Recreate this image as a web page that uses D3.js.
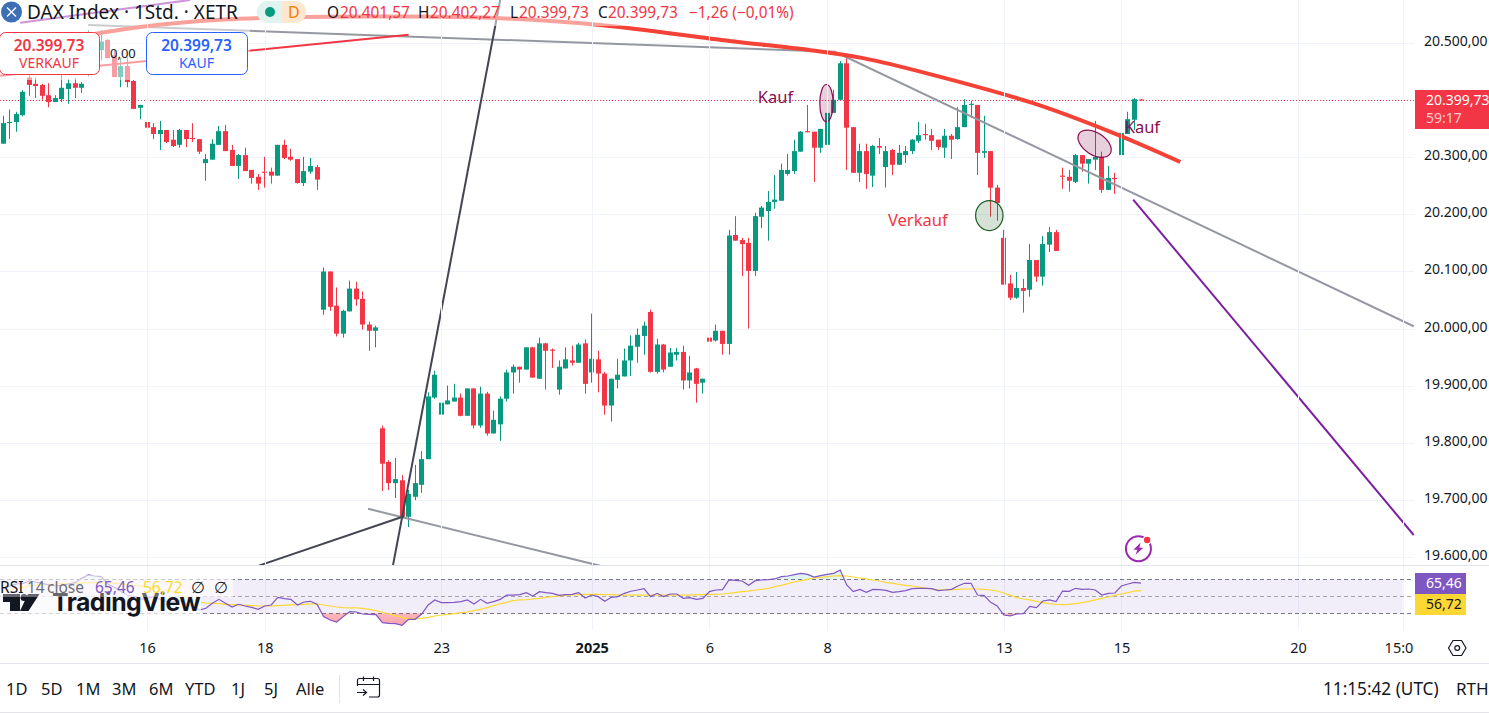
<!DOCTYPE html>
<html>
<head>
<meta charset="utf-8">
<script src="https://cdn.jsdelivr.net/npm/d3@7"></script>
<style>
  html, body { margin: 0; padding: 0; background: #fff; overflow: hidden; }
  svg { display: block; }
  text { font-family: "Noto Sans", sans-serif; fill: #131722; }
</style>
</head>
<body>
<div class="chart"></div>
<script>
// first bar in the arrays sits 22 bars left of the "16" tick
const firstBar = -22;

const opens = [
  20324,20360,20362,20374,20440,20429,20427,20409,20397,20402,20420,20430,20422,20459,20494,20488,20506,20479,20441,20460,20434,20387,
  20362,20353,20341,20348,20331,20322,20348,20334,20332,20290,20296,20322,20346,20313,20285,20304,20278,20266,20275,20275,20268,20322,20301,20297,20255,20275,20283,
  20033,20100,20040,19991,20030,20070,20052,20007,19996,
  19825,19766,19729,19734,19670,19705,19726,19771,19879,19849,19867,19872,19879,19847,19895,19830,19886,19816,19832,19877,19923,19933,19928,19967,19912,19974,19963,19893,19930,19944,19940,19974,19923,19946,19921,19865,19910,19916,19944,19968,
  19987,20029,19924,19972,19933,19954,19959,19909,19930,19905,19984,19979,19996,19973,20164,20155,20150,20101,20196,20206,20222,20224,20271,20276,20310,20346,20345,20317,20322,20378,20401,20465,20353,20273,20311,20268,20320,20283,20313,20287,20304,20311,
  20329,20341,20339,20331,20317,20338,20332,20353,20392,20392,20308,20311,20247,20159,20079,20054,20071,20068,20120,20091,20147,20169,
  20268,20266,20257,20304,20289,20296,20301,20243,20264,20304,20341,20366,20401.57
];
const highs = [
  20373,20384,20380,20418,20444,20440,20429,20430,20409,20446,20437,20439,20432,20523,20517,20523,20507,20488,20475,20475,20436,20392,
  20389,20360,20364,20348,20348,20350,20348,20360,20332,20306,20332,20355,20357,20322,20306,20317,20278,20271,20301,20282,20322,20331,20315,20297,20301,20299,20287,
  20107,20100,20072,20033,20084,20082,20065,20012,20005,
  19830,19769,19773,19743,19717,19761,19785,19888,19926,19874,19900,19903,19886,19895,19895,19898,19889,19856,19881,19928,19937,19933,19967,19968,19984,19975,19965,19944,19967,19970,19975,19981,20026,19961,19924,19912,19947,19965,19988,20000,
  20012,20033,19982,19973,19966,19966,19970,19952,19931,19912,20000,20007,19996,20173,20197,20159,20159,20203,20215,20241,20269,20289,20306,20331,20346,20392,20345,20350,20409,20418,20469,20477,20353,20324,20324,20322,20334,20320,20315,20322,20320,20332,
  20362,20359,20350,20331,20350,20341,20388,20402,20399,20392,20373,20311,20252,20173,20094,20099,20087,20148,20120,20162,20178,20173,
  20282,20278,20306,20304,20297,20364,20310,20285,20273,20357,20380,20404,20402.27
];
const lows = [
  20324,20332,20345,20372,20408,20404,20401,20388,20397,20397,20394,20404,20413,20442,20459,20470,20474,20441,20423,20423,20385,20367,
  20339,20332,20313,20325,20318,20317,20318,20327,20306,20259,20296,20322,20311,20285,20262,20276,20254,20243,20247,20254,20268,20297,20294,20254,20250,20271,20243,
  20024,20031,19986,19984,20030,20040,19998,19961,19967,
  19715,19717,19703,19670,19652,19699,19712,19771,19877,19809,19867,19872,19846,19847,19825,19826,19812,19816,19803,19872,19886,19905,19928,19914,19912,19893,19931,19884,19930,19935,19940,19886,19905,19888,19849,19837,19895,19916,19917,19940,
  19954,19923,19921,19923,19933,19944,19893,19895,19870,19886,19923,19977,19954,19954,20154,20092,20000,20092,20176,20154,20210,20224,20268,20271,20310,20344,20257,20308,20318,20378,20401,20278,20273,20257,20245,20248,20306,20247,20269,20287,20290,20306,
  20325,20331,20313,20313,20299,20297,20331,20353,20369,20269,20299,20196,20189,20077,20050,20052,20028,20056,20082,20075,20134,20136,
  20245,20240,20255,20275,20254,20278,20238,20243,20236,20292,20341,20348,20399.73
];
const closes = [
  20360,20362,20376,20415,20427,20425,20408,20397,20404,20422,20430,20422,20429,20488,20471,20503,20474,20441,20460,20432,20385,20392,
  20352,20341,20348,20327,20320,20348,20332,20332,20310,20297,20324,20346,20311,20285,20304,20276,20264,20254,20273,20268,20322,20299,20296,20255,20276,20285,20261,
  20100,20038,19991,20031,20070,20051,20007,19996,20002,
  19763,19729,19736,19670,19710,19729,19771,19881,19919,19870,19874,19879,19847,19895,19830,19886,19816,19840,19877,19923,19933,19928,19967,19914,19974,19961,19961,19933,19946,19940,19972,19903,19947,19921,19865,19912,19919,19944,19970,19989,
  20005,19924,19972,19928,19958,19959,19909,19923,19903,19912,19977,19996,19973,20163,20154,20148,20101,20197,20212,20222,20226,20278,20278,20311,20345,20344,20317,20350,20378,20401,20465,20352,20273,20311,20271,20320,20317,20311,20287,20308,20311,20331,
  20339,20339,20329,20318,20338,20331,20353,20392,20394,20308,20311,20247,20220,20077,20054,20071,20066,20120,20091,20148,20169,20136,
  20266,20259,20304,20289,20297,20301,20243,20264,20262,20343,20367,20402,20399.73
];

const rsi = [
  59.4,62.1,64.5,65.3,68.0,66.8,65.3,63.3,62.1,62.9,64.5,66.0,71.1,75.1,73.9,73.1,64.5,60.6,55.5,51.5,49.6,46.4,
  47.6,49.6,46.4,43.7,43.7,44.9,41.0,38.6,33.9,35.9,41.7,46.4,41.7,37.4,40.6,38.6,37.0,34.7,38.6,39.8,48.8,47.2,46.4,39.8,43.3,44.1,40.6,
  26.1,22.1,19.8,26.1,31.9,31.5,29.2,28.8,28.4,19.0,18.2,17.8,15.9,22.9,22.9,29.2,39.8,45.7,42.5,42.5,42.9,43.7,45.7,41.0,46.4,41.7,43.7,46.4,
  51.5,51.5,51.9,54.3,50.4,55.5,54.3,53.5,51.1,51.9,52.3,54.3,48.0,51.5,49.6,44.1,48.8,49.6,53.5,55.9,57.4,59.0,49.6,53.5,49.6,52.7,52.7,47.6,48.4,46.4,47.6,55.5,57.4,57.8,
  69.2,68.8,68.0,62.9,68.4,69.2,69.6,70.4,73.1,73.9,75.5,77.0,75.8,72.7,74.3,75.8,77.0,80.9,63.3,55.5,58.2,54.7,58.2,57.8,57.0,54.7,55.5,56.6,59.0,59.4,59.4,59.0,56.6,57.4,58.2,62.1,65.3,65.3,51.5,50.8,42.9,38.6,
  28.0,26.9,29.2,29.6,38.2,36.6,44.5,45.7,43.7,56.2,55.9,59.4,58.2,58.6,57.4,51.5,53.5,53.9,62.1,64.5,66.4,65.46
];
const rsiMa = [
  55.5,57.4,59.4,60.6,62.1,62.9,63.7,64.1,64.5,64.9,65.3,65.3,65.6,66.0,66.0,66.0,65.6,65.3,64.5,63.7,62.9,62.1,
  60.9,59.8,58.6,57.0,55.1,52.3,48.8,45.7,43.3,42.1,41.7,41.3,40.6,39.8,39.8,39.4,39.0,38.6,38.6,38.6,39.0,39.4,39.8,40.2,40.6,41.0,41.0,
  39.8,38.6,37.4,36.6,36.3,36.3,35.9,34.7,33.1,31.2,29.2,27.2,25.3,23.7,23.3,24.1,25.3,26.8,28.0,28.8,29.6,30.8,31.5,33.1,34.7,36.6,39.0,41.0,
  42.9,44.9,45.7,46.0,46.8,47.6,48.8,49.6,50.4,51.1,51.5,51.9,52.3,52.3,52.3,51.9,51.9,51.5,51.5,51.5,51.5,51.5,51.5,51.5,51.5,51.5,51.5,51.5,51.5,51.9,51.9,52.3,52.3,52.7,
  53.5,54.7,55.5,56.2,57.4,58.2,59.4,61.3,62.9,64.9,66.8,68.4,70.0,71.5,72.3,73.1,73.9,74.3,73.9,72.7,71.5,70.4,69.2,68.0,66.4,65.3,64.1,62.9,62.1,60.9,59.8,58.6,57.4,57.4,57.8,58.2,58.6,58.6,58.6,58.2,57.4,56.2,
  53.9,51.1,48.4,46.8,45.7,44.1,42.5,41.3,40.6,40.2,40.6,41.3,42.5,44.1,45.7,47.6,49.2,51.1,52.7,54.3,56.2,56.72
];

const priceTicks = [20500, 20400, 20300, 20200, 20100, 20000, 19900, 19800, 19700, 19600];
const timeTicks = [0, 18, 45, 68, 86, 104, 131, 149, 176, 192];
const timeLabels = ['16', '18', '23', '2025', '6', '8', '13', '15', '20', '15:00'];
const rsiLevels = [70, 50, 30];
const rangeButtons = ['1D', '5D', '1M', '3M', '6M', 'YTD', '1J', '5J', 'Alle'];
const lastPrice = 20399.73;

// drawings, as [bar, price]
const grayFan = [[-9, 20532], [105.2, 20485], [193.7, 20004]];
const redCurve = [[-11.8, 20506], [-7.2, 20518], [8.1, 20539], [23.4, 20546], [38.7, 20547], [54, 20544], [69.3, 20532], [89.1, 20504], [101.4, 20488], [109.5, 20474], [119.7, 20446], [135.5, 20395], [147.7, 20343], [158, 20292]];
const redLine = [[-22.5, 20443], [40, 20515]];
const purpleLine = [[150.8, 20226], [193.7, 19638]];
const lilacLine = [[-19.4, 20536], [6.6, 20576]];
const darkSteep = [[37.6, 19584], [54, 20576]];
const darkLow = [[17, 19584], [39.3, 19671]];
const grayLow = [[33.8, 19684], [69.3, 19584]];

const width = 1489;
const height = 714;
const paneRight = 1414;
const mainBottom = 566;
const rsiBottom = 630;
const up = '#089981';
const down = '#f23645';
const grid = '#f0f3fa';
const sep = '#e0e3eb';

const x = d3.scaleLinear().domain([0, 176]).range([147, 1298]);
const y = d3.scaleLinear().domain([20500, 19600]).range([43.3, 556.7]);
const yRsi = d3.scaleLinear().domain([70, 30]).range([579.3, 613.3]);

const locale = d3.formatLocale({ decimal: ',', thousands: '.', grouping: [3], currency: ['', ''] });
const fmt = locale.format(',.2f');

const svg = d3.select('.chart').append('svg').attr('width', width).attr('height', height);

const defs = svg.append('defs');
defs.append('clipPath').attr('id', 'main-clip').append('rect')
  .attr('x', 0).attr('y', 0).attr('width', paneRight).attr('height', mainBottom);
defs.append('clipPath').attr('id', 'rsi-clip').append('rect')
  .attr('x', 0).attr('y', mainBottom + 1).attr('width', paneRight).attr('height', rsiBottom - mainBottom - 1);
defs.append('clipPath').attr('id', 'time-clip').append('rect')
  .attr('x', 0).attr('y', rsiBottom).attr('width', paneRight).attr('height', 34);
defs.append('clipPath').attr('id', 'below-30').append('rect')
  .attr('x', 0).attr('y', yRsi(30)).attr('width', paneRight).attr('height', 20);
defs.append('clipPath').attr('id', 'above-70').append('rect')
  .attr('x', 0).attr('y', yRsi(70) - 20).attr('width', paneRight).attr('height', 20);

// grid
const main = svg.append('g').attr('clip-path', 'url(#main-clip)');
main.selectAll('.hgrid').data(priceTicks).enter().append('line')
  .attr('x1', 0).attr('x2', paneRight)
  .attr('y1', (d) => Math.round(y(d)) + 0.5).attr('y2', (d) => Math.round(y(d)) + 0.5)
  .attr('stroke', grid);
svg.selectAll('.vgrid').data(timeTicks).enter().append('line')
  .attr('x1', (d) => Math.round(x(d)) + 0.5).attr('x2', (d) => Math.round(x(d)) + 0.5)
  .attr('y1', 0).attr('y2', rsiBottom)
  .attr('stroke', grid);

// last price
main.append('line')
  .attr('x1', 0).attr('x2', paneRight)
  .attr('y1', Math.round(y(lastPrice)) + 0.5).attr('y2', Math.round(y(lastPrice)) + 0.5)
  .attr('stroke', down).attr('stroke-dasharray', '1 2');

// candles
const bars = opens.map((o, i) => {
  return { bar: firstBar + i, o: o, h: highs[i], l: lows[i], c: closes[i] };
});
const candle = main.selectAll('.candle').data(bars).enter().append('g');
candle.append('line')
  .attr('x1', (d) => Math.floor(x(d.bar)) + 0.5)
  .attr('x2', (d) => Math.floor(x(d.bar)) + 0.5)
  .attr('y1', (d) => y(d.h))
  .attr('y2', (d) => y(d.l))
  .attr('stroke', (d) => (d.c >= d.o ? up : down));
candle.append('rect')
  .attr('x', (d) => Math.floor(x(d.bar)) - 2)
  .attr('width', 5)
  .attr('y', (d) => Math.min(y(d.o), y(d.c)))
  .attr('height', (d) => Math.max(1, Math.abs(y(d.o) - y(d.c))))
  .attr('fill', (d) => (d.c >= d.o ? up : down));

// drawings
const path = d3.line().x((d) => x(d[0])).y((d) => y(d[1]));
function drawLine(points, color, w, curve) {
  main.append('path')
    .attr('d', path.curve(curve || d3.curveLinear)(points))
    .attr('fill', 'none')
    .attr('stroke', color)
    .attr('stroke-width', w);
}
drawLine(lilacLine, '#9c27b0', 2);
drawLine(grayFan, '#9598a1', 2);
drawLine(grayLow, '#9598a1', 2);
drawLine(darkLow, '#434651', 2);
drawLine(darkSteep, '#434651', 2);
drawLine(redLine, '#f23645', 2);
drawLine(redCurve, '#f44336', 4, d3.curveCatmullRom);
drawLine(purpleLine, '#7b1fa2', 2);

function drawEllipse(bar, price, rx, ry, angle, fill, stroke) {
  main.append('ellipse')
    .attr('transform', 'translate(' + x(bar) + ',' + y(price) + ') rotate(' + angle + ')')
    .attr('rx', rx).attr('ry', ry)
    .attr('fill', fill)
    .attr('stroke', stroke)
    .attr('stroke-width', 1.2);
}
drawEllipse(103.9, 20395, 6.7, 18.7, 0, 'rgba(136,14,79,0.2)', '#880e4f');
drawEllipse(144.9, 20324, 18.5, 11, 33, 'rgba(136,14,79,0.2)', '#880e4f');
drawEllipse(128.8, 20198, 13.7, 15, 0, 'rgba(27,94,32,0.18)', '#1b5e20');

function drawNote(bar, price, label, color) {
  main.append('text')
    .attr('x', x(bar)).attr('y', y(price))
    .attr('font-size', 16.5)
    .style('fill', color)
    .text(label);
}
drawNote(93.4, 20395, 'Kauf', '#880e4f');
drawNote(113.3, 20180, 'Verkauf', '#f23645');
drawNote(149.5, 20342, 'Kauf', '#880e4f');

// bolt marker
const bolt = svg.append('g').attr('transform', 'translate(' + x(151.6) + ',' + y(19614) + ')');
bolt.append('circle').attr('r', 12.5).attr('fill', '#fff').attr('stroke', '#9c27b0').attr('stroke-width', 2);
bolt.append('path').attr('d', 'M2 -6 L-5 1 L-1 1 L-3 6 L5 -1 L1 -1 Z').attr('fill', '#9c27b0');
bolt.append('circle').attr('cx', 8.7).attr('cy', -8.7).attr('r', 4.5).attr('fill', '#fff');
bolt.append('circle').attr('cx', 8.7).attr('cy', -8.7).attr('r', 3.2).attr('fill', '#f23645');

// rsi pane
const rsiPoints = rsi.map((v, i) => ({ bar: firstBar + i, v: v }));
const maPoints = rsiMa.map((v, i) => ({ bar: firstBar + i, v: v }));
const rsiPane = svg.append('g').attr('clip-path', 'url(#rsi-clip)');
rsiPane.append('rect')
  .attr('x', 0).attr('width', x(192))
  .attr('y', yRsi(70)).attr('height', yRsi(30) - yRsi(70))
  .attr('fill', 'rgba(126,87,194,0.1)');
rsiPane.selectAll('.level').data(rsiLevels).enter().append('line')
  .attr('x1', 0).attr('x2', paneRight)
  .attr('y1', (d) => Math.round(yRsi(d)) + 0.5).attr('y2', (d) => Math.round(yRsi(d)) + 0.5)
  .attr('stroke', (d) => (d === 50 ? '#a8a5b0' : '#787b86'))
  .attr('stroke-dasharray', '4 3');

const lowGrad = defs.append('linearGradient').attr('id', 'low-fill').attr('x1', 0).attr('x2', 0).attr('y1', 0).attr('y2', 1);
lowGrad.append('stop').attr('offset', 0).attr('stop-color', '#f23645').attr('stop-opacity', 0.05);
lowGrad.append('stop').attr('offset', 1).attr('stop-color', '#f23645').attr('stop-opacity', 0.45);
rsiPane.append('path')
  .attr('clip-path', 'url(#below-30)')
  .attr('d', d3.area().x((d) => x(d.bar)).y0(yRsi(30)).y1((d) => yRsi(d.v))(rsiPoints))
  .attr('fill', 'url(#low-fill)');
rsiPane.append('path')
  .attr('clip-path', 'url(#above-70)')
  .attr('d', d3.area().x((d) => x(d.bar)).y0(yRsi(70)).y1((d) => yRsi(d.v))(rsiPoints))
  .attr('fill', 'rgba(8,153,129,0.12)');
const rsiLine = d3.line().x((d) => x(d.bar)).y((d) => yRsi(d.v));
rsiPane.append('path').attr('d', rsiLine(maPoints)).attr('fill', 'none').attr('stroke', '#fdd835').attr('stroke-width', 1.2);
rsiPane.append('path').attr('d', rsiLine(rsiPoints)).attr('fill', 'none').attr('stroke', '#7e57c2').attr('stroke-width', 1.2);

// faded backdrops behind the legends
svg.append('rect').attr('x', 0).attr('y', 0).attr('width', 800).attr('height', 26).attr('fill', 'rgba(255,255,255,0.5)');
svg.append('rect').attr('x', 0).attr('y', 26).attr('width', 250).attr('height', 54).attr('fill', 'rgba(255,255,255,0.5)');
svg.append('rect').attr('x', 0).attr('y', 575).attr('width', 233).attr('height', 22).attr('fill', 'rgba(255,255,255,0.6)');
svg.append('rect').attr('x', 0).attr('y', 597).attr('width', 201).attr('height', 19).attr('fill', 'rgba(255,255,255,0.7)');

// logo
const logo = svg.append('g').attr('fill', '#131722');
logo.append('path').attr('d', 'M3 594 H20 V611 H10 V602 H3 Z');
logo.append('circle').attr('cx', 24).attr('cy', 597.500).attr('r', 3.5);
logo.append('path').attr('d', 'M28 594 H39.500 L28.500 611 H20 Z');
logo.append('text').attr('x', 52).attr('y', 611)
  .attr('font-size', 24.8).attr('font-weight', 700).style('font-family', 'Inter, "Noto Sans", sans-serif').style('letter-spacing', '-0.5px')
  .text('TradingView');
svg.append('rect').attr('x', 0).attr('y', 589).attr('width', 201).attr('height', 8).attr('fill', 'rgba(255,255,255,0.35)');

// rsi legend
const rsiLegend = [
  ['RSI', 0, '#131722'], ['14', 27, '#6a6d78'], ['close', 47, '#6a6d78'],
  ['65,46', 95, '#7e57c2'], ['56,72', 143, '#fdd835'], ['∅', 191, '#131722'], ['∅', 214, '#131722']
];
svg.selectAll('.rsi-legend').data(rsiLegend).enter().append('text')
  .attr('x', (d) => d[1]).attr('y', 593)
  .attr('font-size', 15.5)
  .style('fill', (d) => d[2])
  .text((d) => d[0]);

// separators
[mainBottom, 664, 713].forEach((v) => {
  svg.append('line').attr('x1', 0).attr('x2', width).attr('y1', v - 0.5).attr('y2', v - 0.5).attr('stroke', sep);
});

// axes
const priceAxis = d3.axisRight(y).tickValues(priceTicks).tickFormat(fmt).tickSize(0).tickPadding(9);
const priceG = svg.append('g').attr('transform', 'translate(' + (paneRight + 1) + ',-2)').call(priceAxis);
priceG.select('.domain').remove();
priceG.selectAll('text').attr('font-size', 14).style('font-family', '"Noto Sans", sans-serif').style('fill', '#131722');

const timeAxis = d3.axisBottom(x).tickValues(timeTicks)
  .tickFormat((d, i) => timeLabels[i]).tickSize(0).tickPadding(0);
const timeG = svg.append('g').attr('clip-path', 'url(#time-clip)').append('g')
  .attr('transform', 'translate(0,643)').call(timeAxis);
timeG.select('.domain').remove();
timeG.selectAll('text').attr('font-size', 14.5).style('font-family', '"Noto Sans", sans-serif').style('fill', '#131722')
  .attr('font-weight', (d) => (d === 68 ? 700 : 400));

// price tags on the axis
function tag(yTop, h, w, color) {
  svg.append('rect').attr('x', paneRight + 1).attr('y', yTop).attr('width', w).attr('height', h).attr('fill', color);
}
tag(90, 39, 74, '#f23645');
svg.append('text').attr('x', 1426).attr('y', 105).attr('font-size', 14).style('fill', '#fff').text(fmt(lastPrice));
svg.append('text').attr('x', 1426).attr('y', 123).attr('font-size', 14).style('fill', '#ffc9cf').text('59:17');
tag(573, 21, 51, '#7e57c2');
tag(594, 21, 51, '#fdd835');
svg.append('text').attr('x', 1426).attr('y', 588).attr('font-size', 14).style('fill', '#fff').text('65,46');
svg.append('text').attr('x', 1426).attr('y', 609).attr('font-size', 14).style('fill', '#131722').text('56,72');

// hexagon button
svg.append('path').attr('d', 'M1448.5 648 L1453 640.5 H1461.500 L1466 648 L1461.500 655.500 H1453 Z')
  .attr('fill', 'none').attr('stroke', '#131722').attr('stroke-width', 1.2);
svg.append('circle').attr('cx', 1457.2).attr('cy', 648).attr('r', 2.4)
  .attr('fill', 'none').attr('stroke', '#131722').attr('stroke-width', 1.2);

// title row
const head = svg.append('g');
head.append('circle').attr('cx', 11.5).attr('cy', 12).attr('r', 10.5).attr('fill', '#3d6fb4');
head.append('path').attr('d', 'M7 7.5 L16 16.5 M16 7.5 L7 16.5').attr('stroke', '#fff').attr('stroke-width', 1.4);
head.append('text').attr('x', 27).attr('y', 19).attr('font-size', 19).text('DAX Index · 1Std. · XETR');
head.append('rect').attr('x', 257).attr('y', 1).attr('width', 49).attr('height', 22).attr('rx', 11).attr('fill', '#e0f3ef');
head.append('path').attr('d', 'M282 1 H295 A11 11 0 0 1 295 23 H282 Z').attr('fill', '#fde8cf');
head.append('circle').attr('cx', 270).attr('cy', 12).attr('r', 5).attr('fill', '#089981');
head.append('text').attr('x', 288).attr('y', 18).attr('font-size', 16).style('fill', '#f57c00').text('D');

const ohlcLetters = [['O', 327, 340], ['H', 418, 430], ['L', 510, 519], ['C', 598, 608]];
const ohlcValues = ['20.401,57', '20.402,27', '20.399,73', '20.399,73'];
ohlcLetters.forEach((d, i) => {
  head.append('text').attr('x', d[1]).attr('y', 18).attr('font-size', 15.4).text(d[0]);
  head.append('text').attr('x', d[2]).attr('y', 18).attr('font-size', 15.4).style('fill', '#f23645').text(ohlcValues[i]);
});
head.append('text').attr('x', 689).attr('y', 18).attr('font-size', 15.4).style('fill', '#f23645').text('−1,26 (−0,01%)');

// order boxes
function orderBox(left, w, color, label) {
  svg.append('rect')
    .attr('x', left + 0.5).attr('y', 32.5).attr('width', w).attr('height', 42).attr('rx', 6)
    .attr('fill', '#fff').attr('stroke', color);
  svg.append('text').attr('x', left + w / 2).attr('y', 51).attr('text-anchor', 'middle')
    .attr('font-size', 15.5).attr('font-weight', 600).style('fill', color).text(fmt(lastPrice));
  svg.append('text').attr('x', left + w / 2).attr('y', 68).attr('text-anchor', 'middle')
    .attr('font-size', 14).style('fill', color).text(label);
}
orderBox(-1, 100, '#f23645', 'VERKAUF');
orderBox(146, 101, '#2962ff', 'KAUF');
svg.append('text').attr('x', 110).attr('y', 58).attr('font-size', 13).text('0,00');

// bottom bar
const rangeX = [6, 41, 76, 112, 149, 185, 231, 264, 296];
svg.selectAll('.range').data(rangeButtons).enter().append('text')
  .attr('x', (d, i) => rangeX[i]).attr('y', 695)
  .attr('font-size', 16.5).text((d) => d);
svg.append('line').attr('x1', 339.5).attr('x2', 339.5).attr('y1', 675).attr('y2', 703).attr('stroke', sep);
svg.append('path')
  .attr('d', 'M357.5 686 V680.500 Q357.500 678.500 359.500 678.500 H377.500 Q379.500 678.500 379.500 680.500 V695 Q379.500 697 377.500 697 H369 M357.500 684.500 H379.500 M363.500 676.500 V681 M373.500 676.500 V681 M357 692.500 H366 M363 689.500 L366.500 692.500 L363 695.500')
  .attr('fill', 'none').attr('stroke', '#131722').attr('stroke-width', 1.2);
svg.append('text').attr('x', 1323).attr('y', 695).attr('font-size', 17.2).text('11:15:42 (UTC)');
svg.append('text').attr('x', 1456).attr('y', 695).attr('font-size', 17).text('RTH');
</script>
</body>
</html>
